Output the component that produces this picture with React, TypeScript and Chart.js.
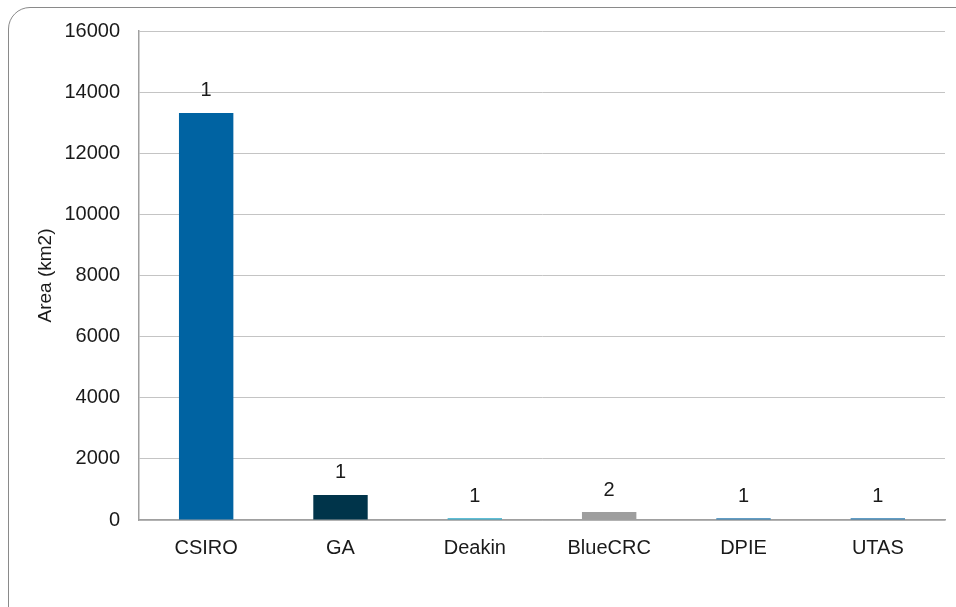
import React, { useEffect, useRef } from "react";
import { Chart, registerables } from "chart.js";

Chart.register(...registerables);

const categories = ["CSIRO", "GA", "Deakin", "BlueCRC", "DPIE", "UTAS"];
const areaValues = [13320, 820, 60, 260, 60, 60];
const countLabels = ["1", "1", "1", "2", "1", "1"];
const barColors = ["#0063a2", "#00344a", "#2aa8c8", "#9e9e9e", "#2d7db2", "#2d7db2"];
const yTickMax = 16000;
const yTickStep = 2000;
const yTitle = "Area (km2)";

const FONT = "'Liberation Sans', Arial, sans-serif";

const countPlugin = {
  id: "countLabels",
  afterDatasetsDraw(chart: any) {
    const ctx = chart.ctx;
    const meta = chart.getDatasetMeta(0);
    ctx.save();
    ctx.font = `20px ${FONT}`;
    ctx.fillStyle = "#1a1a1a";
    ctx.textAlign = "center";
    ctx.textBaseline = "middle";
    meta.data.forEach((bar: any, i: number) => {
      ctx.fillText(countLabels[i], bar.x, bar.y - 22);
    });
    ctx.restore();
  },
};

export default function App() {
  const ref = useRef<HTMLCanvasElement>(null);
  useEffect(() => {
    if (!ref.current) return;
    const chart = new Chart(ref.current, {
      type: "bar",
      data: {
        labels: categories,
        datasets: [
          {
            data: areaValues,
            backgroundColor: barColors,
            borderWidth: 0,
            barPercentage: 0.405,
            categoryPercentage: 1,
          },
        ],
      },
      options: {
        animation: false,
        responsive: false,
        maintainAspectRatio: false,
        layout: { padding: { left: 0, right: 11, top: 30, bottom: 0 } },
        plugins: { legend: { display: false }, tooltip: { enabled: false } },
        scales: {
          x: {
            grid: { display: false, drawTicks: false },
            border: { color: "#a0a0a0", width: 1.5 },
            ticks: { color: "#1a1a1a", font: { family: FONT, size: 20 }, padding: 16 },
            afterFit(scale: any) {
              scale.height = 87;
            },
          },
          y: {
            min: 0,
            max: yTickMax,
            ticks: {
              stepSize: yTickStep,
              color: "#1a1a1a",
              font: { family: FONT, size: 20 },
              padding: 19,
              callback: (v: any) => String(v),
            },
            grid: { color: "#c4c4c4", drawTicks: false, lineWidth: 1 },
            border: { color: "#a0a0a0", width: 1.5 },
            title: {
              display: true,
              text: yTitle,
              color: "#1a1a1a",
              font: { family: FONT, size: 19 },
              padding: { top: 34, bottom: 0 },
            },
            afterFit(scale: any) {
              scale.width = 139;
            },
          },
        },
      },
      plugins: [countPlugin],
    });
    return () => chart.destroy();
  }, []);

  return (
    <div style={{ position: "fixed", left: 0, top: 0, width: 956, height: 607, overflow: "hidden", background: "#fff" }}>
      <div
        style={{
          position: "absolute",
          left: 8,
          top: 7,
          width: 990,
          height: 640,
          border: "1.5px solid #8a8a8a",
          borderRadius: 22,
          boxSizing: "border-box",
        }}
      />
      <canvas ref={ref} width={956} height={607} style={{ position: "absolute", left: 0, top: 0 }} />
    </div>
  );
}
